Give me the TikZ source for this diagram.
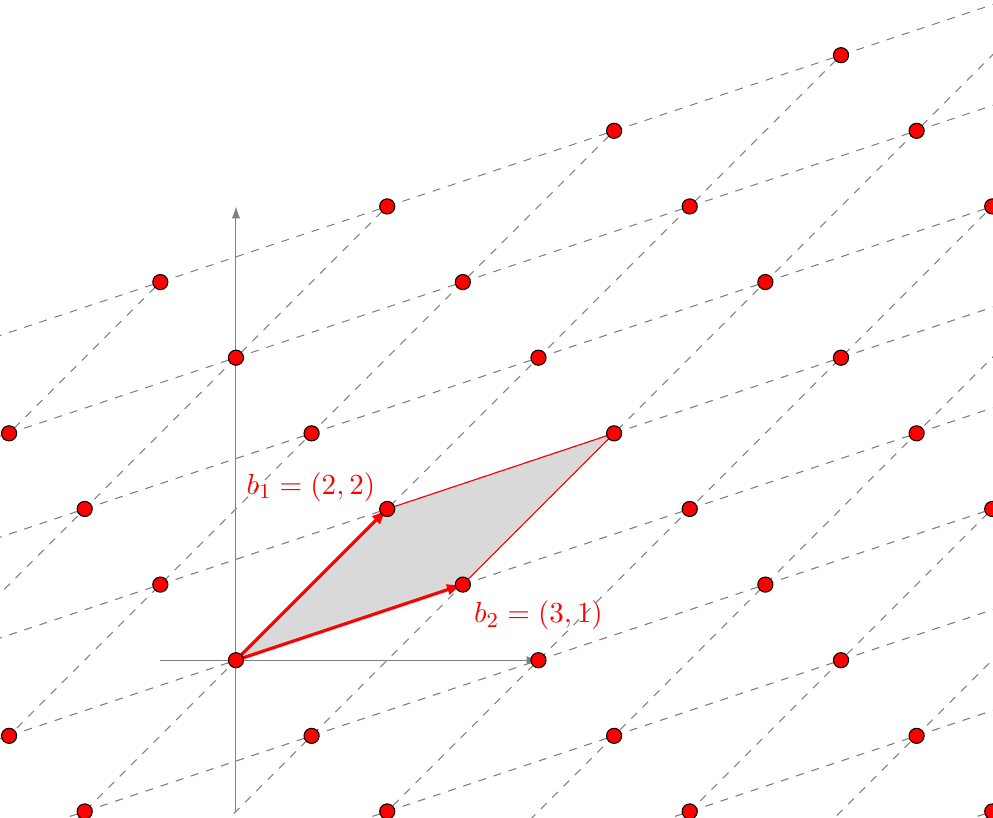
\documentclass[tikz,border=0pt]{standalone}
\usepackage{amsmath}
\usetikzlibrary{arrows.meta}

\begin{document}
\begin{tikzpicture}[
latt/.style={draw=gray,dashed},
pt/.style={circle,draw=black,fill=red,minimum size=2mm,inner sep=0pt},
cell/.style={fill=gray!30,draw=red},
axis/.style={draw=gray,-{Latex[length=4.5pt,width=3.2pt]}},
vec/.style={red,line width=1.2pt,-{Latex[length=6pt,width=4.5pt]}},
lbl/.style={red,font=\fontsize{11}{13}\selectfont}]
\useasboundingbox (-3.12,-2.08) rectangle (10.01,8.73);
\clip (-3.12,-2.08) rectangle (10.01,8.73);
% lattice a*(2,2)+b*(3,1)
\foreach \a in {-8,...,4}
  \foreach \b in {-4,...,8}
    \coordinate (g\a_\b) at ({2*\a+3*\b},{2*\a+\b});
\foreach \b in {-4,...,8}
  \draw[latt] (g-8_\b) -- (g4_\b);
\foreach \a in {-8,...,4}
  \draw[latt] (g\a_-4) -- (g\a_8);
% fundamental cell
\filldraw[cell] (g0_0) -- (g0_1) -- (g1_1) -- (g1_0) -- cycle;
% axes
\coordinate (xl) at (-1,0);
\coordinate (xr) at (4,0);
\coordinate (yb) at (0,-2);
\coordinate (yt) at (0,6);
\draw[axis] (xl) -- (xr);
\draw[axis] (yb) -- (yt);
% basis vectors
\draw[vec] (g0_0) -- (g1_0);
\draw[vec] (g0_0) -- (g0_1);
\foreach \a in {-8,...,4}
  \foreach \b in {-4,...,8}
    \node[pt] (p\a_\b) at (g\a_\b) {};
\node[lbl] (b1lbl) at (0.99,2.29) {$b_1=(2,2)$};
\node[lbl] (b2lbl) at (4.0,0.59) {$b_2=(3,1)$};
\end{tikzpicture}
\end{document}
